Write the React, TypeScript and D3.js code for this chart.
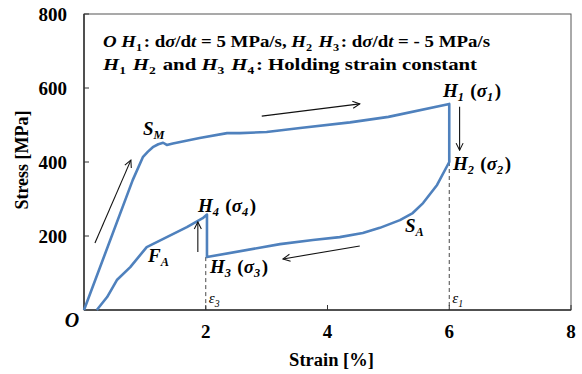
import React from 'react';
import * as d3 from 'd3';

// axis ticks
const strainTicks = [2, 4, 6, 8];
const stressTicks = [200, 400, 600, 800];

// full cycle: O -> S_M -> H1 -> H2 -> S_A -> H3 -> H4 -> F_A -> back to zero stress
const cycleStrain = [
  0, 0.8, 0.97, 1.05, 1.13, 1.22, 1.3, 1.36, 1.46, 1.9, 2.35, 2.56, 3.0, 3.55, 4.37, 5.0, 6.0,
  6.0, 5.8, 5.57, 5.4, 5.19, 4.86, 4.58, 4.2, 3.76, 3.22, 2.02,
  2.02, 1.95, 1.69, 1.36, 1.03, 0.76, 0.54, 0.38, 0.21,
];
const cycleStress = [
  0, 351, 414, 428, 440, 448, 452, 446, 450, 465, 478, 478, 481, 492, 507, 522, 557,
  400, 338, 289, 262, 243, 222, 208, 197, 189, 178, 143,
  258, 248, 224, 197, 170, 116, 81, 35, 0,
];

// direction arrows [x1, y1, x2, y2] in strain / stress units
const arrows = [
  [0.18, 181, 0.77, 405],
  [2.92, 524, 4.53, 557],
  [6.17, 549, 6.17, 432],
  [4.53, 173, 3.27, 138],
  [1.87, 157, 1.87, 238],
];

// holding points where dashed guides drop to the axis
const guideStrain = [2, 6];
const guideStress = [143, 400];

const W = 582;
const H = 374;
const margin = { top: 14, right: 11, bottom: 64, left: 84 };
const serif = { fontFamily: "'Liberation Serif'" };
const blue = '#4f81bd';

const Sub: React.FC<{ t: string }> = ({ t }) => (
  <>
    <tspan dy={4} fontSize="0.65em">{t}</tspan>
    <tspan dy={-4}>{'\u200a'}</tspan>
  </>
);

const App: React.FC = () => {
  const x = d3.scaleLinear().domain([0, 8]).range([margin.left, W - margin.right]);
  const y = d3.scaleLinear().domain([0, 800]).range([H - margin.bottom, margin.top]);

  const pts = cycleStrain.map((s, i) => [s, cycleStress[i]] as [number, number]);
  const line = d3.line<[number, number]>().x(d => x(d[0])).y(d => y(d[1]));

  const x0 = x(0), x8 = x(8), y0 = y(0), y8 = y(800);

  return (
    <div style={{ position: 'absolute', left: 0, top: 0 }}>
      <svg width={W} height={H} style={{ display: 'block', background: '#fff' }}>
        <defs>
          <marker id="arr" viewBox="0 0 10 10" refX="9" refY="5" markerWidth="8" markerHeight="8" orient="auto">
            <path d="M1,1 L9,5 L1,9" fill="none" stroke="#111" strokeWidth="1.2" />
          </marker>
        </defs>

        {/* frame */}
        <rect x={x0} y={y8} width={x8 - x0} height={y0 - y8} fill="none" stroke="#555" strokeWidth={1} />
        <line x1={x0} x2={x8} y1={y0} y2={y0} stroke="#333" strokeWidth={1.5} />
        <line x1={x0} x2={x0} y1={y0} y2={y8} stroke="#333" strokeWidth={1.5} />

        {/* ticks */}
        {stressTicks.map(t => (
          <g key={'y' + t}>
            <line x1={x0} x2={x0 + 5} y1={y(t)} y2={y(t)} stroke="#333" />
            <text style={serif} x={x0 - 17} y={y(t) + 7} textAnchor="end" fontSize={19} fontWeight="bold">{t}</text>
          </g>
        ))}
        {strainTicks.map(t => (
          <g key={'x' + t}>
            <line x1={x(t)} x2={x(t)} y1={y0} y2={y0 - 5} stroke="#333" />
            <text style={serif} x={x(t)} y={y0 + 28} textAnchor="middle" fontSize={19} fontWeight="bold">{t}</text>
          </g>
        ))}
        <text style={serif} x={x0 - 12} y={y0 + 17} textAnchor="middle" fontSize={20} fontWeight="bold" fontStyle="italic">O</text>

        {/* axis titles */}
        <text style={serif} x={(x0 + x8) / 2 + 4} y={366} textAnchor="middle" fontSize={18.5} fontWeight="bold">Strain [%]</text>
        <text style={serif} transform={`translate(28,160) rotate(-90)`} textAnchor="middle" fontSize={18} fontWeight="bold">Stress [MPa]</text>

        {/* dashed guides */}
        {guideStrain.map((s, i) => (
          <line key={'g' + i} x1={x(s)} x2={x(s)} y1={y(guideStress[i])} y2={y0} stroke="#333" strokeWidth={0.9} strokeDasharray="4,3" />
        ))}

        {/* curve */}
        <path d={line(pts) || ''} fill="none" stroke={blue} strokeWidth={2.6} strokeLinejoin="round" />

        {/* arrows */}
        {arrows.map((a, i) => (
          <line key={'a' + i} x1={x(a[0])} y1={y(a[1])} x2={x(a[2])} y2={y(a[3])} stroke="#111" strokeWidth={1.1} markerEnd="url(#arr)" />
        ))}

        {/* legend text */}
        <g fontSize={17.5} fontWeight="bold">
          <text style={serif} x={103} y={47} textLength={387} lengthAdjust="spacingAndGlyphs">
            <tspan fontStyle="italic">O H</tspan><Sub t="1" />: d<tspan fontStyle="italic">σ</tspan>/d<tspan fontStyle="italic">t</tspan> = 5 MPa/s, <tspan fontStyle="italic">H</tspan><Sub t="2" /><tspan fontStyle="italic"> H</tspan><Sub t="3" />: d<tspan fontStyle="italic">σ</tspan>/d<tspan fontStyle="italic">t</tspan> = - 5 MPa/s
          </text>
          <text style={serif} x={103} y={70} textLength={374} lengthAdjust="spacingAndGlyphs">
            <tspan fontStyle="italic">H</tspan><Sub t="1" /><tspan fontStyle="italic"> H</tspan><Sub t="2" /> and <tspan fontStyle="italic">H</tspan><Sub t="3" /><tspan fontStyle="italic"> H</tspan><Sub t="4" />: Holding strain constant
          </text>
        </g>

        {/* point labels */}
        <g fontSize={19} fontWeight="bold" fontStyle="italic">
          <text style={serif} x={143} y={135}>S<Sub t="M" /></text>
          <text style={serif} x={443} y={97}>H<Sub t="1" /><tspan fontStyle="normal"> (</tspan>σ<Sub t="1" /><tspan fontStyle="normal">)</tspan></text>
          <text style={serif} x={453} y={170}>H<Sub t="2" /><tspan fontStyle="normal"> (</tspan>σ<Sub t="2" /><tspan fontStyle="normal">)</tspan></text>
          <text style={serif} x={198} y={212}>H<Sub t="4" /><tspan fontStyle="normal"> (</tspan>σ<Sub t="4" /><tspan fontStyle="normal">)</tspan></text>
          <text style={serif} x={210} y={273}>H<Sub t="3" /><tspan fontStyle="normal"> (</tspan>σ<Sub t="3" /><tspan fontStyle="normal">)</tspan></text>
          <text style={serif} x={148} y={262}>F<Sub t="A" /></text>
          <text style={serif} x={405} y={232}>S<Sub t="A" /></text>
          <text style={serif} x={x(2) + 3} y={303} fontSize={15} fontWeight="normal">ε<Sub t="3" /></text>
          <text style={serif} x={x(6) + 3} y={303} fontSize={15} fontWeight="normal">ε<Sub t="1" /></text>
        </g>
      </svg>
    </div>
  );
};

export default App;
